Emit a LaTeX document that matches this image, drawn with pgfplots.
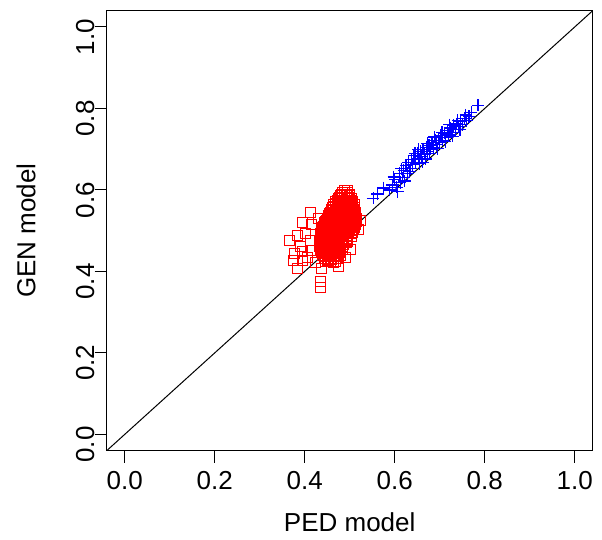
\documentclass[border=0pt]{standalone}
\usepackage{fontspec}
\setmainfont{Liberation Sans}
\usepackage{pgfplots}
\usepackage{pgfplotstable}
\pgfplotsset{compat=1.18}
\pgfplotstableread{
x y
0.488 0.598
0.496 0.598
0.482 0.590
0.492 0.590
0.500 0.590
0.478 0.582
0.488 0.582
0.498 0.582
0.472 0.575
0.482 0.575
0.492 0.575
0.502 0.575
0.468 0.567
0.478 0.567
0.488 0.567
0.498 0.567
0.506 0.567
0.465 0.560
0.475 0.560
0.485 0.560
0.495 0.560
0.505 0.560
0.460 0.552
0.470 0.552
0.480 0.552
0.490 0.552
0.500 0.552
0.510 0.552
0.457 0.545
0.467 0.545
0.477 0.545
0.487 0.545
0.497 0.545
0.507 0.545
0.513 0.545
0.453 0.537
0.463 0.537
0.473 0.537
0.483 0.537
0.493 0.537
0.503 0.537
0.513 0.537
0.450 0.530
0.460 0.530
0.470 0.530
0.480 0.530
0.490 0.530
0.500 0.530
0.510 0.530
0.516 0.530
0.446 0.522
0.456 0.522
0.466 0.522
0.476 0.522
0.486 0.522
0.496 0.522
0.506 0.522
0.514 0.522
0.443 0.515
0.453 0.515
0.463 0.515
0.473 0.515
0.483 0.515
0.493 0.515
0.503 0.515
0.512 0.515
0.440 0.507
0.450 0.507
0.460 0.507
0.470 0.507
0.480 0.507
0.490 0.507
0.500 0.507
0.510 0.507
0.437 0.500
0.447 0.500
0.457 0.500
0.467 0.500
0.477 0.500
0.487 0.500
0.497 0.500
0.507 0.500
0.435 0.492
0.445 0.492
0.455 0.492
0.465 0.492
0.475 0.492
0.485 0.492
0.495 0.492
0.505 0.492
0.434 0.485
0.444 0.485
0.454 0.485
0.464 0.485
0.474 0.485
0.484 0.485
0.494 0.485
0.503 0.485
0.433 0.477
0.443 0.477
0.453 0.477
0.463 0.477
0.473 0.477
0.483 0.477
0.493 0.477
0.432 0.470
0.442 0.470
0.452 0.470
0.462 0.470
0.472 0.470
0.482 0.470
0.492 0.470
0.433 0.462
0.443 0.462
0.453 0.462
0.463 0.462
0.473 0.462
0.483 0.462
0.435 0.455
0.445 0.455
0.455 0.455
0.465 0.455
0.475 0.455
0.485 0.455
0.437 0.447
0.447 0.447
0.457 0.447
0.467 0.447
0.477 0.447
0.440 0.440
0.450 0.440
0.460 0.440
0.470 0.440
0.480 0.440
0.443 0.432
0.453 0.432
0.463 0.432
0.473 0.432
0.447 0.425
0.458 0.425
0.468 0.425
0.485 0.594
0.495 0.594
0.479 0.586
0.489 0.586
0.499 0.586
0.475 0.578
0.485 0.578
0.495 0.578
0.503 0.578
0.469 0.571
0.479 0.571
0.489 0.571
0.499 0.571
0.507 0.571
0.464 0.564
0.474 0.564
0.484 0.564
0.494 0.564
0.504 0.564
0.510 0.564
0.462 0.556
0.472 0.556
0.482 0.556
0.492 0.556
0.502 0.556
0.510 0.556
0.459 0.549
0.469 0.549
0.479 0.549
0.489 0.549
0.499 0.549
0.509 0.549
0.455 0.541
0.465 0.541
0.475 0.541
0.485 0.541
0.495 0.541
0.505 0.541
0.511 0.541
0.452 0.534
0.462 0.534
0.472 0.534
0.482 0.534
0.492 0.534
0.502 0.534
0.512 0.534
0.448 0.526
0.458 0.526
0.468 0.526
0.478 0.526
0.488 0.526
0.498 0.526
0.508 0.526
0.445 0.519
0.455 0.519
0.465 0.519
0.475 0.519
0.485 0.519
0.495 0.519
0.505 0.519
0.513 0.519
0.442 0.511
0.452 0.511
0.462 0.511
0.472 0.511
0.482 0.511
0.492 0.511
0.502 0.511
0.510 0.511
0.439 0.504
0.449 0.504
0.459 0.504
0.469 0.504
0.479 0.504
0.489 0.504
0.499 0.504
0.508 0.504
0.437 0.496
0.447 0.496
0.457 0.496
0.467 0.496
0.477 0.496
0.487 0.496
0.497 0.496
0.506 0.496
0.436 0.489
0.446 0.489
0.456 0.489
0.466 0.489
0.476 0.489
0.486 0.489
0.496 0.489
0.435 0.481
0.445 0.481
0.455 0.481
0.465 0.481
0.475 0.481
0.485 0.481
0.495 0.481
0.434 0.474
0.444 0.474
0.454 0.474
0.464 0.474
0.474 0.474
0.484 0.474
0.494 0.474
0.436 0.466
0.446 0.466
0.456 0.466
0.466 0.466
0.476 0.466
0.486 0.466
0.438 0.459
0.448 0.459
0.458 0.459
0.468 0.459
0.478 0.459
0.440 0.451
0.450 0.451
0.460 0.451
0.470 0.451
0.480 0.451
0.442 0.444
0.452 0.444
0.462 0.444
0.472 0.444
0.446 0.436
0.456 0.436
0.466 0.436
0.476 0.436
0.450 0.429
0.460 0.429
0.367 0.477
0.374 0.428
0.394 0.428
0.394 0.448
0.385 0.489
0.401 0.494
0.378 0.445
0.383 0.408
0.390 0.462
0.412 0.477
0.416 0.452
0.407 0.433
0.423 0.423
0.396 0.520
0.416 0.514
0.430 0.531
0.412 0.545
0.450 0.428
0.463 0.423
0.474 0.413
0.490 0.433
0.501 0.453
0.519 0.502
0.523 0.526
0.434 0.376
0.434 0.361
0.438 0.408
}\reddata
\pgfplotstableread{
x y
0.552 0.580
0.562 0.590
0.588 0.600
0.595 0.612
0.600 0.625
0.604 0.607
0.610 0.640
0.612 0.618
0.618 0.630
0.620 0.648
0.625 0.660
0.628 0.640
0.630 0.668
0.635 0.652
0.638 0.675
0.640 0.662
0.643 0.684
0.646 0.668
0.650 0.690
0.652 0.676
0.655 0.665
0.658 0.694
0.660 0.682
0.663 0.700
0.666 0.688
0.668 0.676
0.670 0.705
0.673 0.694
0.676 0.710
0.680 0.700
0.683 0.716
0.686 0.705
0.690 0.722
0.693 0.712
0.697 0.728
0.700 0.716
0.703 0.734
0.706 0.722
0.710 0.740
0.713 0.728
0.717 0.745
0.720 0.735
0.723 0.752
0.727 0.742
0.730 0.758
0.735 0.748
0.738 0.762
0.742 0.756
0.746 0.768
0.750 0.760
0.755 0.775
0.760 0.770
0.765 0.780
0.785 0.808
0.598 0.632
0.606 0.596
0.615 0.652
0.622 0.622
0.633 0.645
0.645 0.690
0.653 0.700
0.662 0.668
0.672 0.715
0.678 0.690
0.688 0.730
0.695 0.702
0.705 0.742
0.712 0.718
0.722 0.760
0.728 0.732
0.740 0.770
0.745 0.748
0.758 0.784
0.770 0.790
0.575 0.605
}\bluedata
\begin{document}
\fontsize{13}{15}\selectfont
\begin{tikzpicture}
\begin{axis}[name=ax, scale only axis, width=243pt, height=220pt,
  xmin=-0.04, xmax=1.04, ymin=-0.04, ymax=1.04,
  xtick={0,0.2,0.4,0.6,0.8,1}, ytick={0,0.2,0.4,0.6,0.8,1},
  xticklabels={0.0,0.2,0.4,0.6,0.8,1.0},
  yticklabels={0.0,0.2,0.4,0.6,0.8,1.0},
  xtick pos=bottom, ytick pos=left,
  tick align=outside, major tick length=6pt,
  tick style={black, line width=0.5pt},
  axis line style={black, line width=0.5pt},
  tick label style={font=\fontsize{13}{15}\selectfont, inner sep=0pt},
  xticklabel style={anchor=north, yshift=-4pt},
  yticklabel style={rotate=90, anchor=south, xshift=-5pt},
  xlabel={PED model}, ylabel={GEN model},
  label style={font=\fontsize{13}{15}\selectfont},
  xlabel style={at={(axis description cs:0.5,0)}, anchor=center, yshift=-35.7pt},
  ylabel style={at={(axis description cs:0,0.5)}, anchor=center, yshift=40.3pt},
]
\addplot[scatter, only marks, mark=square, mark size=2.5pt, point meta=0,
  scatter/use mapped color={draw=red, fill=none, line width=0.5pt}] table[x=x,y=y] {\reddata};
\addplot[scatter, only marks, mark=+, mark size=3.1pt, point meta=0,
  scatter/use mapped color={draw=blue, line width=0.6pt}] table[x=x,y=y] {\bluedata};
\addplot[black, line width=0.5pt, no marks] coordinates {(-0.04,-0.04) (1.04,1.04)};
\end{axis}
\pgfresetboundingbox
\path[use as bounding box] ([xshift=-53.35pt,yshift=-44.15pt]ax.south west) rectangle ([xshift=4.65pt,yshift=5.35pt]ax.north east);
\end{tikzpicture}
\end{document}
